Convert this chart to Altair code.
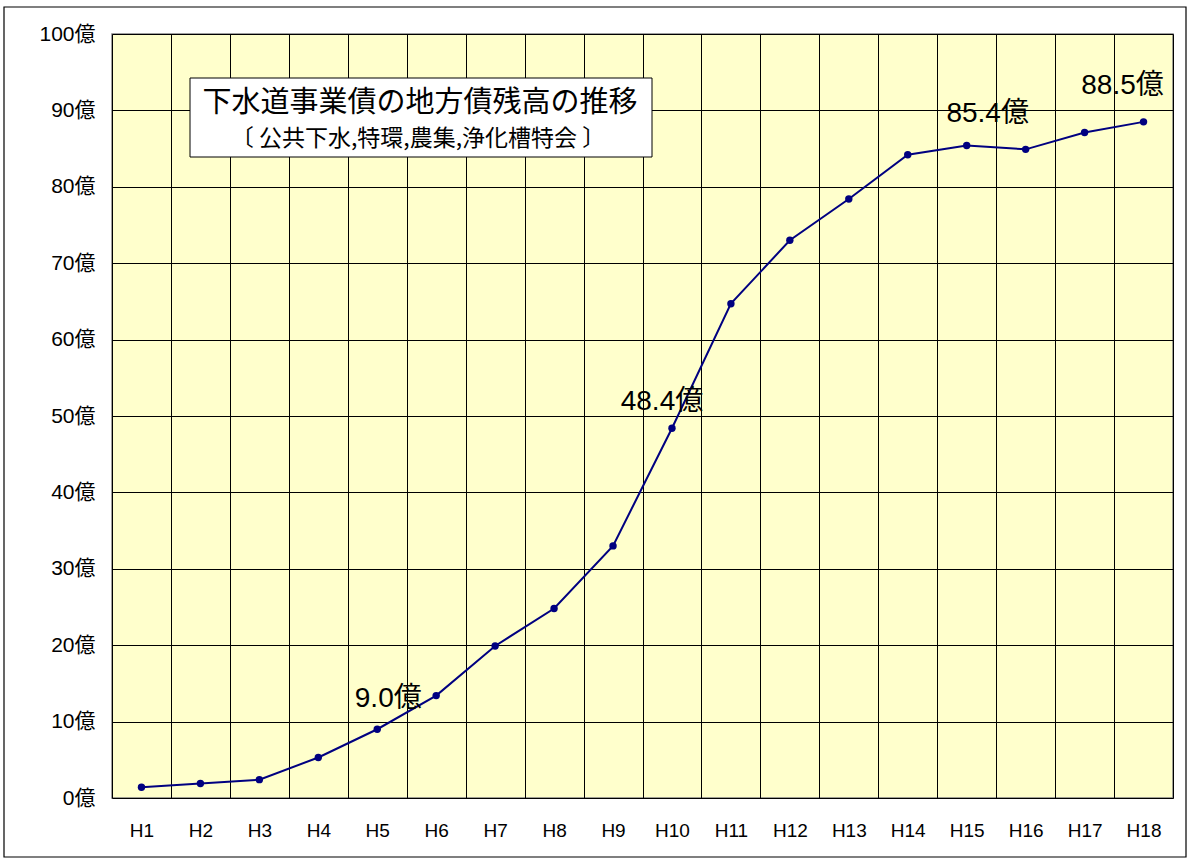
import altair as alt
import pandas as pd

# 年度 (平成) と地方債残高 (億円)
years = ["H1", "H2", "H3", "H4", "H5", "H6", "H7", "H8", "H9",
         "H10", "H11", "H12", "H13", "H14", "H15", "H16", "H17", "H18"]
balance = [1.4, 1.9, 2.4, 5.3, 9.0, 13.4, 19.9, 24.8, 33.0,
           48.4, 64.7, 73.0, 78.4, 84.2, 85.4, 84.9, 87.1, 88.5]
y_ticks = [0, 10, 20, 30, 40, 50, 60, 70, 80, 90, 100]

# 数値を書き込む年度
labelled_years = ["H5", "H10", "H15", "H18"]
label_offsets = {"H5": (11, -30), "H10": (-10, -26), "H15": (21, -32), "H18": (-21, -36)}

title_text = "下水道事業債の地方債残高の推移"
subtitle_text = "〔 公共下水,特環,農集,浄化槽特会 〕"

LATIN = "Liberation Sans, Arial, Noto Sans CJK JP"
CJK = "Noto Sans CJK JP"
NAVY = "#000080"

df = pd.DataFrame({"year": years, "value": balance})

x_enc = alt.X(
    "year:N", sort=years, title=None,
    scale=alt.Scale(paddingInner=0, paddingOuter=0),
    axis=alt.Axis(labelAngle=0, ticks=False, domain=False, grid=True, tickBand="extent",
                  gridColor="#000000", gridWidth=1, gridOpacity=1,
                  labelFont=LATIN, labelFontSize=19, labelColor="#000000", labelPadding=23),
)
y_enc = alt.Y(
    "value:Q", title=None,
    scale=alt.Scale(domain=[0, 100], nice=False),
    axis=alt.Axis(values=y_ticks, labelExpr="datum.value + '億'", ticks=False, domain=False,
                  grid=True, gridColor="#000000", gridWidth=1, gridOpacity=1,
                  labelFont=LATIN, labelFontSize=21, labelColor="#000000", labelPadding=17),
)

base = alt.Chart(df)

line = base.mark_line(color=NAVY, strokeWidth=2).encode(x=x_enc, y=y_enc)
points = base.mark_point(filled=True, color=NAVY, size=55, opacity=1).encode(x=x_enc, y=y_enc)

layers = [line, points]

# 値ラベル
for yr in labelled_years:
    dx, dy = label_offsets[yr]
    layers.append(
        base.transform_filter(alt.datum.year == yr)
        .transform_calculate(label="format(datum.value, '.1f') + '億'")
        .mark_text(font=LATIN, fontSize=28, color="#000000", dx=dx, dy=dy,
                   align="center", baseline="middle")
        .encode(x=alt.X("year:N", sort=years), y="value:Q", text="label:N")
    )

# 外枠
frame = alt.Chart(df.head(1)).mark_rect(fill=None, stroke="#000000", strokeWidth=1.2, clip=False).encode(
    x=alt.value(-108), x2=alt.value(1074), y=alt.value(-27), y2=alt.value(823))

# タイトル枠と文字
title_box = alt.Chart(df.head(1)).mark_rect(fill="#FFFFFF", stroke="#000000", strokeWidth=1).encode(
    x=alt.value(78), x2=alt.value(540), y=alt.value(44), y2=alt.value(123))
title_mark = alt.Chart(df.head(1)).mark_text(
    text=title_text, font=CJK, fontSize=29, color="#000000", align="center", baseline="middle"
).encode(x=alt.value(308), y=alt.value(69))
subtitle_mark = alt.Chart(df.head(1)).mark_text(
    text=subtitle_text, font=CJK, fontSize=23, color="#000000", align="center", baseline="middle"
).encode(x=alt.value(306), y=alt.value(105))

chart = alt.layer(frame, *layers, title_box, title_mark, subtitle_mark).properties(
    width=1061, height=764,
    background="#FFFFFF",
    padding={"left": 112, "top": 34, "right": 17, "bottom": 67},
    autosize=alt.AutoSizeParams(type="none"),
).configure_view(
    fill="#FFFFCC", stroke="#808080", strokeWidth=1.5
)

chart.save("out.html", embed_options={"renderer": "svg", "actions": False})
